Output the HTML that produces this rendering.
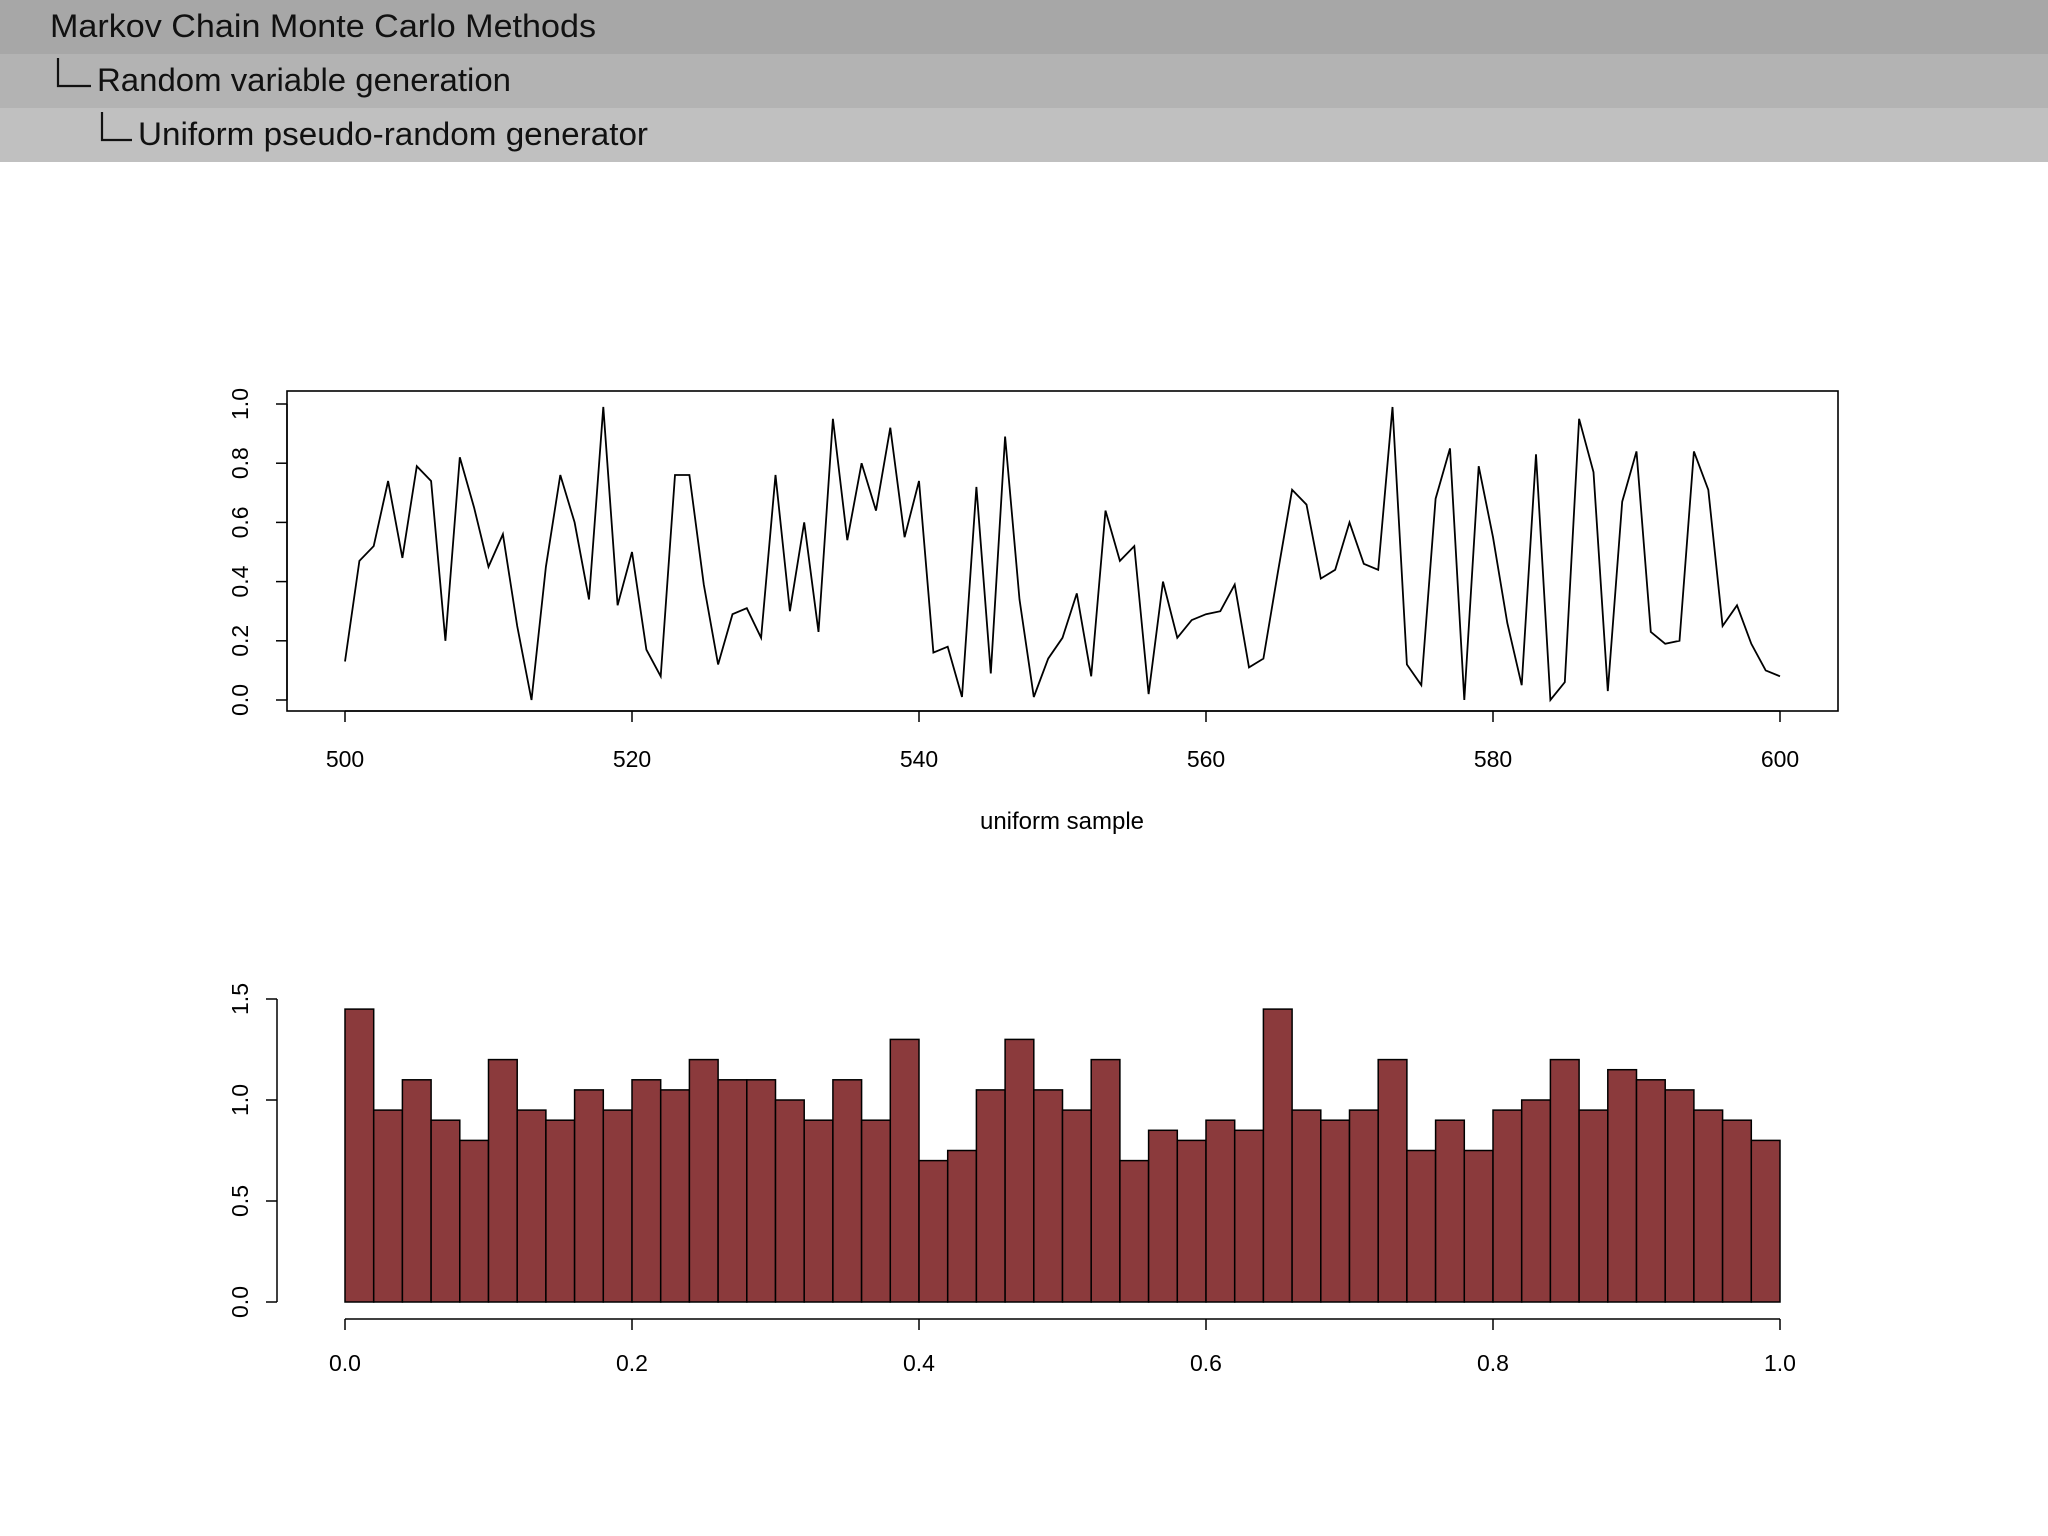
<!DOCTYPE html>
<html><head><meta charset="utf-8"><style>
html,body{margin:0;padding:0;background:#fff;width:2048px;height:1536px;overflow:hidden}
svg{display:block}
text{font-family:"Liberation Sans",sans-serif}
</style></head><body>
<svg id="s" width="2048" height="1536" viewBox="0 0 2048 1536" xmlns="http://www.w3.org/2000/svg">
<rect x="0" y="0" width="2048" height="54" fill="#a7a7a7"/>
<rect x="0" y="54" width="2048" height="54" fill="#b3b3b3"/>
<rect x="0" y="108" width="2048" height="54" fill="#c0c0c0"/>
<text x="50" y="37" font-size="32" textLength="546" lengthAdjust="spacingAndGlyphs" fill="#111">Markov Chain Monte Carlo Methods</text>
<path d="M58 58 V86 H91" fill="none" stroke="#111" stroke-width="2.2"/>
<text x="97" y="91" font-size="32" textLength="414" lengthAdjust="spacingAndGlyphs" fill="#111">Random variable generation</text>
<path d="M102 112 V140 H132" fill="none" stroke="#111" stroke-width="2.2"/>
<text x="138" y="145" font-size="32" textLength="510" lengthAdjust="spacingAndGlyphs" fill="#111">Uniform pseudo-random generator</text>
<g id="line"></g>
<g id="hist"></g>
</svg>
<script>
const lineValues=[0.13,0.47,0.52,0.74,0.48,0.79,0.74,0.20,0.82,0.65,0.45,0.56,0.25,0.00,0.45,0.76,0.60,0.34,0.99,0.32,0.50,0.17,0.08,0.76,0.76,0.39,0.12,0.29,0.31,0.21,0.76,0.30,0.60,0.23,0.95,0.54,0.80,0.64,0.92,0.55,0.74,0.16,0.18,0.01,0.72,0.09,0.89,0.34,0.01,0.14,0.21,0.36,0.08,0.64,0.47,0.52,0.02,0.40,0.21,0.27,0.29,0.30,0.39,0.11,0.14,0.43,0.71,0.66,0.41,0.44,0.60,0.46,0.44,0.99,0.12,0.05,0.68,0.85,0.00,0.79,0.55,0.26,0.05,0.83,0.00,0.06,0.95,0.77,0.03,0.67,0.84,0.23,0.19,0.20,0.84,0.71,0.25,0.32,0.19,0.10,0.08];
const lineStart=500;
const lineXTicks=["500","520","540","560","580","600"];
const lineYTicks=["0.0","0.2","0.4","0.6","0.8","1.0"];
const histDensities=[1.45,0.95,1.1,0.9,0.8,1.2,0.95,0.9,1.05,0.95,1.1,1.05,1.2,1.1,1.1,1.0,0.9,1.1,0.9,1.3,0.7,0.75,1.05,1.3,1.05,0.95,1.2,0.7,0.85,0.8,0.9,0.85,1.45,0.95,0.9,0.95,1.2,0.75,0.9,0.75,0.95,1.0,1.2,0.95,1.15,1.1,1.05,0.95,0.9,0.8];
const histXTicks=["0.0","0.2","0.4","0.6","0.8","1.0"];
const histYTicks=["0.0","0.5","1.0","1.5"];

const NS="http://www.w3.org/2000/svg";
function mk(parent,tag,attrs,txt){const e=document.createElementNS(NS,tag);for(const k in attrs)e.setAttribute(k,attrs[k]);if(txt!==undefined)e.textContent=txt;parent.appendChild(e);return e;}

// line chart
const L=document.getElementById('line');
const lx=v=>345+(v-500)*(1780-345)/100;
const ly=v=>700-v*(700-404);
let r=mk(L,'rect',{x:287,y:391,width:1551,height:320,fill:'none',stroke:'#000','stroke-width':1.6});


let d=lineValues.map((v,i)=>(i?'L':'M')+lx(lineStart+i).toFixed(1)+' '+ly(v).toFixed(1)).join(' ');
let p=mk(L,'path',{d:d,fill:'none',stroke:'#000','stroke-width':1.8,'stroke-linejoin':'miter'});


mk(L,'line',{x1:lx(500),x2:lx(600),y1:711,y2:711,stroke:'#000','stroke-width':1.5});
lineXTicks.forEach(t=>{const x=lx(+t);
 mk(L,'line',{x1:x,x2:x,y1:711,y2:722,stroke:'#000','stroke-width':1.5});
 const e=mk(L,'text',{x:x,y:767,'font-size':23,'text-anchor':'middle'},t);
 
 });
mk(L,'line',{x1:287,x2:287,y1:ly(0),y2:ly(1),stroke:'#000','stroke-width':1.5});
lineYTicks.forEach(t=>{const y=ly(+t);
 mk(L,'line',{x1:276,x2:287,y1:y,y2:y,stroke:'#000','stroke-width':1.5});
 const e=mk(L,'text',{x:0,y:0,'font-size':23,'text-anchor':'middle',transform:`translate(248,${y}) rotate(-90)`},t);
 
 });
let xt=mk(L,'text',{x:1062,y:829,'font-size':24,'text-anchor':'middle'},'uniform sample');



// histogram
const H=document.getElementById('hist');
const hx=v=>345+v*(1780-345);
const hy=v=>1302-v*(1302-999)/1.5;
const bw=1/histDensities.length;
histDensities.forEach((v,i)=>{
 const b=mk(H,'rect',{x:hx(i*bw),y:hy(v),width:hx(bw)-hx(0),height:hy(0)-hy(v),fill:'#8b3a3c',stroke:'#000','stroke-width':1.5});
 
 
});
mk(H,'line',{x1:hx(0),x2:hx(1),y1:1319,y2:1319,stroke:'#000','stroke-width':1.5});
histXTicks.forEach(t=>{const x=hx(+t);
 mk(H,'line',{x1:x,x2:x,y1:1319,y2:1330,stroke:'#000','stroke-width':1.5});
 const e=mk(H,'text',{x:x,y:1371,'font-size':23,'text-anchor':'middle'},t);
 
 });
mk(H,'line',{x1:277,x2:277,y1:hy(0),y2:hy(1.5),stroke:'#000','stroke-width':1.5});
histYTicks.forEach(t=>{const y=hy(+t);
 mk(H,'line',{x1:266,x2:277,y1:y,y2:y,stroke:'#000','stroke-width':1.5});
 const e=mk(H,'text',{x:0,y:0,'font-size':23,'text-anchor':'middle',transform:`translate(248,${y}) rotate(-90)`},t);
 
 });
</script>
</body></html>
